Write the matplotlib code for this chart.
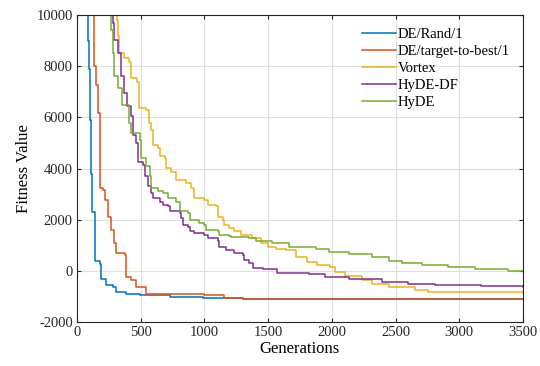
import matplotlib
matplotlib.use("Agg")
import matplotlib.pyplot as plt

plt.rcParams["font.family"] = ["Liberation Serif", "DejaVu Serif"]

# step curves: value holds from each generation until the next one
rand_gen = [0, 80, 85, 91, 99, 107, 120, 138, 183, 190, 230, 282, 308, 386,
            491, 726, 987, 1300, 3500]
rand_val = [20000, 11000, 9000, 7900, 5900, 3800, 2300, 400, 280, -300, -560,
            -630, -820, -910, -960, -1020, -1060, -1100, -1100]

ttb_gen = [0, 125, 130, 135, 148, 161, 178, 204, 217, 243, 269, 290, 308, 373,
           386, 426, 465, 543, 900, 1000, 1150, 1300, 3500]
ttb_val = [20000, 11000, 9500, 8000, 7270, 6170, 3230, 3160, 2770, 2120, 1600,
           1070, 680, 620, -230, -370, -630, -890, -920, -960, -1050, -1100,
           -1100]

vortex_gen = [0, 300, 313, 318, 331, 370, 409, 422, 474, 487, 539, 565, 578,
              596, 635, 648, 687, 700, 740, 779, 857, 896, 922, 1000, 1026,
              1091, 1104, 1143, 1156, 1195, 1234, 1286, 1377, 1443, 1495, 1560,
              1638, 1716, 1807, 1885, 1989, 2028, 2106, 2237, 2315, 2445, 2653,
              2758, 3500]
vortex_val = [20000, 11000, 9800, 9160, 8510, 8310, 8180, 7530, 7400, 6360,
              6300, 5780, 5520, 4925, 4795, 4470, 4400, 4010, 3880, 3560, 3430,
              3230, 2840, 2775, 2580, 2515, 2120, 1990, 1800, 1670, 1540, 1410,
              1280, 1080, 950, 850, 810, 550, 355, 225, 160, -40, -210, -365,
              -500, -630, -760, -830, -850]

hydedf_gen = [0, 250, 260, 279, 292, 318, 344, 370, 396, 422, 440, 466, 479,
              518, 531, 557, 583, 596, 648, 674, 714, 727, 805, 818, 831, 870,
              883, 922, 1000, 1026, 1104, 1117, 1169, 1234, 1299, 1312, 1352,
              1378, 1456, 1573, 1820, 1950, 2132, 2393, 2601, 2810, 3174, 3500]
hydedf_val = [20000, 11000, 10000, 9675, 9030, 8510, 7600, 6950, 6430, 6040,
              5300, 4990, 4270, 4140, 3690, 3300, 3040, 2840, 2710, 2580, 2515,
              2320, 2250, 2060, 1800, 1730, 1540, 1470, 1410, 1280, 1150, 950,
              820, 690, 625, 430, 300, 93, 53, -80, -130, -260, -300, -430,
              -500, -560, -600, -630]

hyde_gen = [0, 245, 253, 266, 279, 292, 318, 357, 409, 427, 492, 505, 544, 570,
            583, 635, 674, 714, 779, 805, 870, 883, 961, 1000, 1013, 1104, 1117,
            1195, 1208, 1352, 1404, 1534, 1664, 1872, 1976, 2132, 2315, 2445,
            2549, 2706, 2914, 3122, 3383, 3500]
hyde_val = [20000, 11000, 10000, 9420, 8510, 7600, 7140, 6490, 5780, 5380,
            5120, 4400, 4080, 3690, 3230, 3140, 3040, 2840, 2710, 2320, 2250,
            1990, 1860, 1800, 1600, 1540, 1410, 1370, 1316, 1270, 1180, 1073,
            916, 838, 747, 654, 524, 381, 289, 224, 132, 66, 0, -20]

labels = ["DE/Rand/1", "DE/target-to-best/1", "Vortex", "HyDE-DF", "HyDE"]
colors = ["#0072BD", "#D95319", "#EDB120", "#7E2F8E", "#77AC30"]
series = [(rand_gen, rand_val), (ttb_gen, ttb_val), (vortex_gen, vortex_val),
          (hydedf_gen, hydedf_val), (hyde_gen, hyde_val)]

fig = plt.figure(figsize=(5.4, 3.66), dpi=100)
ax = fig.add_axes([0.1426, 0.1202, 0.8259, 0.8388])

for (g, v), lab, c in zip(series, labels, colors):
    ax.plot(g, v, drawstyle="steps-post", color=c, lw=1.1, label=lab)

ax.set_xlim(0, 3500)
ax.set_ylim(-2000, 10000)
ax.set_xticks(range(0, 3501, 500))
ax.set_yticks(range(-2000, 10001, 2000))
ax.set_yticklabels([str(t) for t in range(-2000, 10001, 2000)])
ax.grid(True, color="#e0e0e0", lw=0.8)
ax.set_axisbelow(True)
ax.tick_params(direction="in", top=True, right=True, labelsize=10.5,
               length=3, width=0.8, colors="#262626", pad=3)
for s in ax.spines.values():
    s.set_color("#262626")
    s.set_linewidth(0.8)

ax.set_xlabel("Generations", fontsize=12, labelpad=1)
ax.set_ylabel("Fitness Value", fontsize=12, labelpad=3)

leg = ax.legend(loc="upper right", fontsize=10.5, frameon=False,
                handlelength=2.3, handletextpad=0.15, labelspacing=0.25,
                borderaxespad=0.5)

fig.savefig("out.png", dpi=100)
